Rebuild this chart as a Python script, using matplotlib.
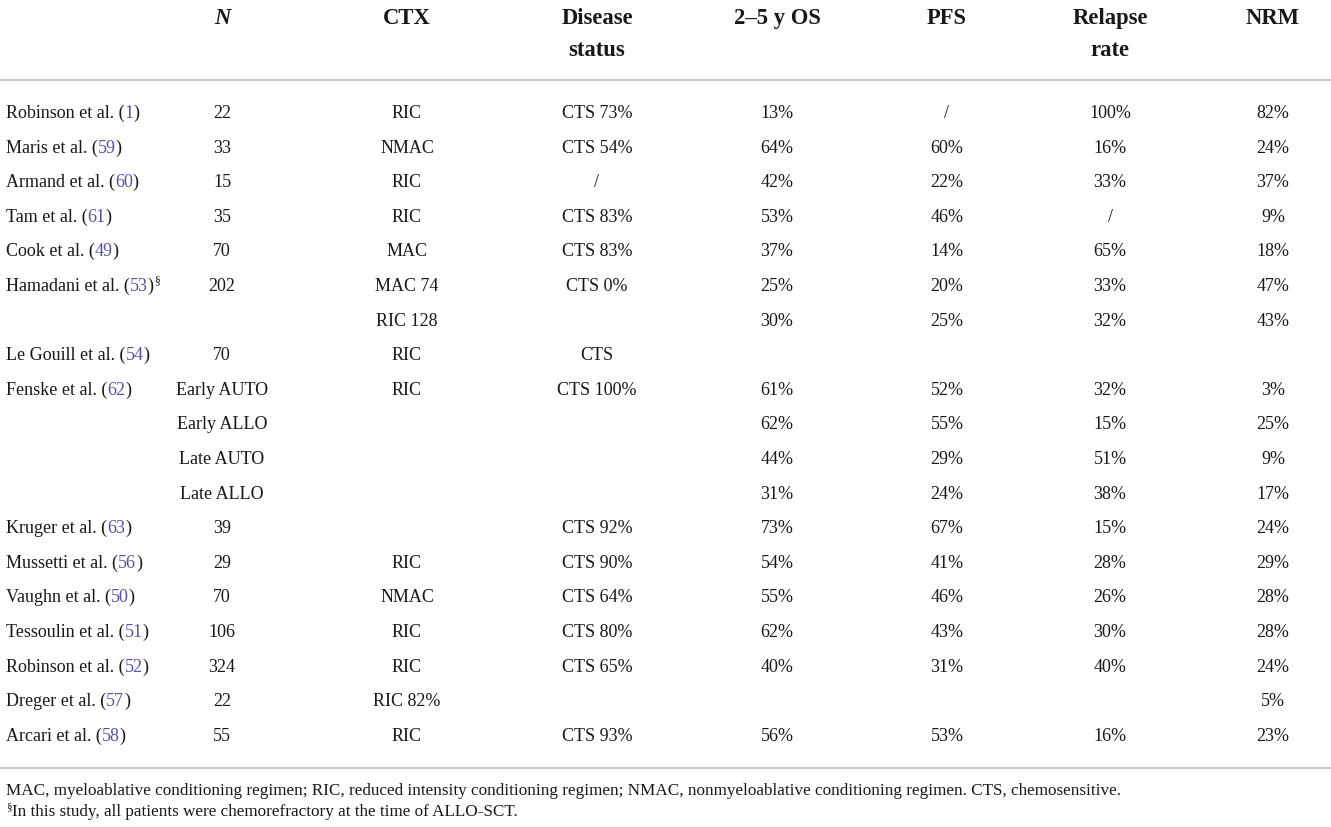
import matplotlib
matplotlib.use("Agg")
from matplotlib import pyplot as plt

# table content
studies = ["Robinson et al.", "Maris et al.", "Armand et al.", "Tam et al.", "Cook et al.",
           "Hamadani et al.", "", "Le Gouill et al.", "Fenske et al.", "", "", "",
           "Kruger et al.", "Mussetti et al.", "Vaughn et al.", "Tessoulin et al.",
           "Robinson et al.", "Dreger et al.", "Arcari et al."]
refs = ["1", "59", "60", "61", "49", "53", "", "54", "62", "", "", "",
        "63", "56", "50", "51", "52", "57", "58"]
marks = ["", "", "", "", "", "\u00a7", "", "", "", "", "", "", "", "", "", "", "", "", ""]
n_pts = ["22", "33", "15", "35", "70", "202", "", "70", "Early AUTO", "Early ALLO",
         "Late AUTO", "Late ALLO", "39", "29", "70", "106", "324", "22", "55"]
ctx = ["RIC", "NMAC", "RIC", "RIC", "MAC", "MAC 74", "RIC 128", "RIC", "RIC", "", "", "",
       "", "RIC", "NMAC", "RIC", "RIC", "RIC 82%", "RIC"]
disease = ["CTS 73%", "CTS 54%", "/", "CTS 83%", "CTS 83%", "CTS 0%", "", "CTS", "CTS 100%",
           "", "", "", "CTS 92%", "CTS 90%", "CTS 64%", "CTS 80%", "CTS 65%", "", "CTS 93%"]
os_rate = ["13%", "64%", "42%", "53%", "37%", "25%", "30%", "", "61%", "62%", "44%", "31%",
           "73%", "54%", "55%", "62%", "40%", "", "56%"]
pfs = ["/", "60%", "22%", "46%", "14%", "20%", "25%", "", "52%", "55%", "29%", "24%",
       "67%", "41%", "46%", "43%", "31%", "", "53%"]
relapse = ["100%", "16%", "33%", "/", "65%", "33%", "32%", "", "32%", "15%", "51%", "38%",
           "15%", "28%", "26%", "30%", "40%", "", "16%"]
nrm = ["82%", "24%", "37%", "9%", "18%", "47%", "43%", "", "3%", "25%", "9%", "17%",
       "24%", "29%", "28%", "28%", "24%", "5%", "23%"]

headers = ["N", "CTX", "Disease\nstatus", "2\u20135 y OS", "PFS", "Relapse\nrate", "NRM"]
footnote1 = ("MAC, myeloablative conditioning regimen; RIC, reduced intensity conditioning regimen; "
             "NMAC, nonmyeloablative conditioning regimen. CTS, chemosensitive.")
footnote2 = "In this study, all patients were chemorefractory at the time of ALLO-SCT."

W, H = 1331, 828
fig = plt.figure(figsize=(W / 100, H / 100), dpi=100)
ax = fig.add_axes([0, 0, 1, 1])
ax.set_xlim(0, W)
ax.set_ylim(H, 0)
ax.axis("off")

FONT = "Liberation Serif"
TXT = "#1a1718"
LINK = "#5252a8"
fs = 13.0

col_x = [222, 407, 597, 777, 947, 1110, 1273]
row_y0, row_dy = 112, 34.6

renderer = fig.canvas.get_renderer()


def text_width(t):
    bb = t.get_window_extent(renderer=renderer)
    return bb.width


def rich(x, y, parts, size):
    # parts: list of (string, colour, superscript?)
    for s, c, sup in parts:
        if not s:
            continue
        if sup:
            t = ax.text(x, y - 7, s, fontsize=size * 0.65, color=c, family=FONT, va="baseline")
        else:
            t = ax.text(x, y, s, fontsize=size, color=c, family=FONT, va="baseline")
        x += text_width(t)


# header
for cx, h in zip(col_x, headers):
    style = "italic" if h == "N" else "normal"
    ax.text(cx, 8, h, fontsize=16.3, fontweight="bold", fontstyle=style, family=FONT,
            color=TXT, ha="center", va="top", linespacing=1.68)

ax.plot([0, W], [81, 81], color="#c8c8c8", lw=1.3)
ax.plot([0, W], [769, 769], color="#c8c8c8", lw=1.3)

# body
for i in range(len(studies)):
    y = row_y0 + i * row_dy
    base = y + 6
    if studies[i]:
        rich(6, base, [(studies[i] + " (", TXT, False), (refs[i], LINK, False),
                       (")", TXT, False), (marks[i], TXT, True)], fs)
    for cx, col in zip(col_x, [n_pts, ctx, disease, os_rate, pfs, relapse, nrm]):
        ax.text(cx, base, col[i], fontsize=fs, family=FONT, color=TXT,
                ha="center", va="baseline")

# footnotes
ax.text(6, 795, footnote1, fontsize=12.3, family=FONT, color=TXT, va="baseline")
rich(6, 816, [("\u00a7", TXT, True), (footnote2, TXT, False)], 12.3)

fig.savefig("out.png", dpi=100)
